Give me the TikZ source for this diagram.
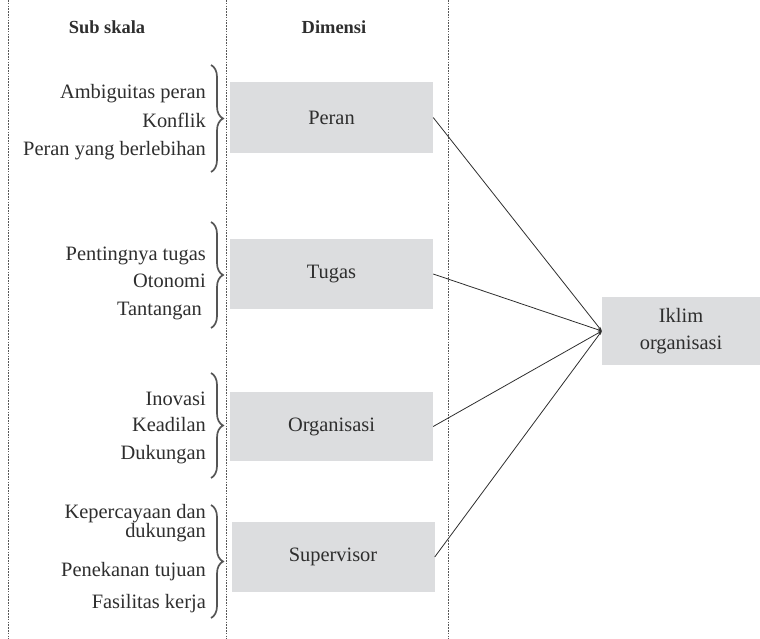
\documentclass[tikz,border=0pt]{standalone}
\usepackage{fontspec}
\setmainfont{Liberation Serif}
\usetikzlibrary{decorations.pathreplacing,arrows.meta}
\definecolor{boxgray}{HTML}{DCDDDF}
\definecolor{inkgray}{HTML}{2E2E2E}
\definecolor{bracegray}{HTML}{555555}
\begin{document}
\begin{tikzpicture}[x=1bp,y=-1bp,
  sep/.style={draw=inkgray!80, line width=0.6bp, dash pattern=on 1.6bp off 1.2bp},
  head/.style={font=\fontsize{18.5}{22}\selectfont\bfseries, text=inkgray, anchor=base, inner sep=0},
  sub/.style={font=\fontsize{20.5}{24}\selectfont, text=inkgray, anchor=base east, inner sep=0},
  dimbox/.style={fill=boxgray, draw=none, minimum width=203bp, minimum height=70bp, inner sep=0,
    font=\fontsize{20.5}{24}\selectfont, text=inkgray},
  brc/.style={draw=bracegray, line width=1.7bp, decorate, decoration={brace, amplitude=12bp}},
  conn/.style={draw=inkgray, line width=0.8bp, -{Stealth[length=4bp,width=3bp]}}
]
\useasboundingbox (0,0) rectangle (760,639);

% separators
\draw[sep] (8,0) -- (8,639);
\draw[sep] (226,0) -- (226,639);
\draw[sep] (448,0) -- (448,639);

% headers
\node[head] (hsub) at (107,33.3) {Sub skala};
\node[head] (hdim) at (334,33.3) {Dimensi};

% dimension boxes
\node[dimbox, minimum height=71bp] (peran) at (331.5,117.5) {Peran};
\node[dimbox] (tugas) at (331.5,274) {Tugas};
\node[dimbox, minimum height=69bp] (org) at (331.5,426.5) {Organisasi};
\node[dimbox] (sup) at (333,557) {Supervisor};

\node[dimbox, minimum width=158bp, minimum height=68bp, align=center,
  font=\fontsize{20.5}{27.6}\selectfont] (iklim) at (681,331) {Iklim\\organisasi};

% subscales
\node[sub] (s1) at (206,99) {Ambiguitas peran};
\node[sub] (s2) at (206,128) {Konflik};
\node[sub] (s3) at (206,156) {Peran yang berlebihan};

\node[sub] (s4) at (206,260) {Pentingnya tugas};
\node[sub] (s5) at (206,287.3) {Otonomi};
\node[sub] (s6) at (202,315.7) {Tantangan};

\node[sub] (s7) at (206,405.7) {Inovasi};
\node[sub] (s8) at (206,431.7) {Keadilan};
\node[sub] (s9) at (206,459.3) {Dukungan};

\node[sub] (s10) at (206,518) {Kepercayaan dan};
\node[sub] (s10b) at (206,537) {dukungan};
\node[sub] (s11) at (206,576) {Penekanan tujuan};
\node[sub] (s12) at (206,608.3) {Fasilitas kerja};

% braces
\coordinate (b1t) at (211,65);  \coordinate (b1b) at (211,172);
\coordinate (b2t) at (211,222); \coordinate (b2b) at (211,328);
\coordinate (b3t) at (211,373); \coordinate (b3b) at (211,478);
\coordinate (b4t) at (211,505); \coordinate (b4b) at (211,618);
\draw[brc] (b1t) -- (b1b);
\draw[brc] (b2t) -- (b2b);
\draw[brc] (b3t) -- (b3b);
\draw[brc] (b4t) -- (b4b);

% connectors
\draw[conn] (peran.east) -- (iklim.west);
\draw[conn] (tugas.east) -- (iklim.west);
\draw[conn] (org.east) -- (iklim.west);
\draw[conn] (sup.east) -- (iklim.west);
\end{tikzpicture}
\end{document}
